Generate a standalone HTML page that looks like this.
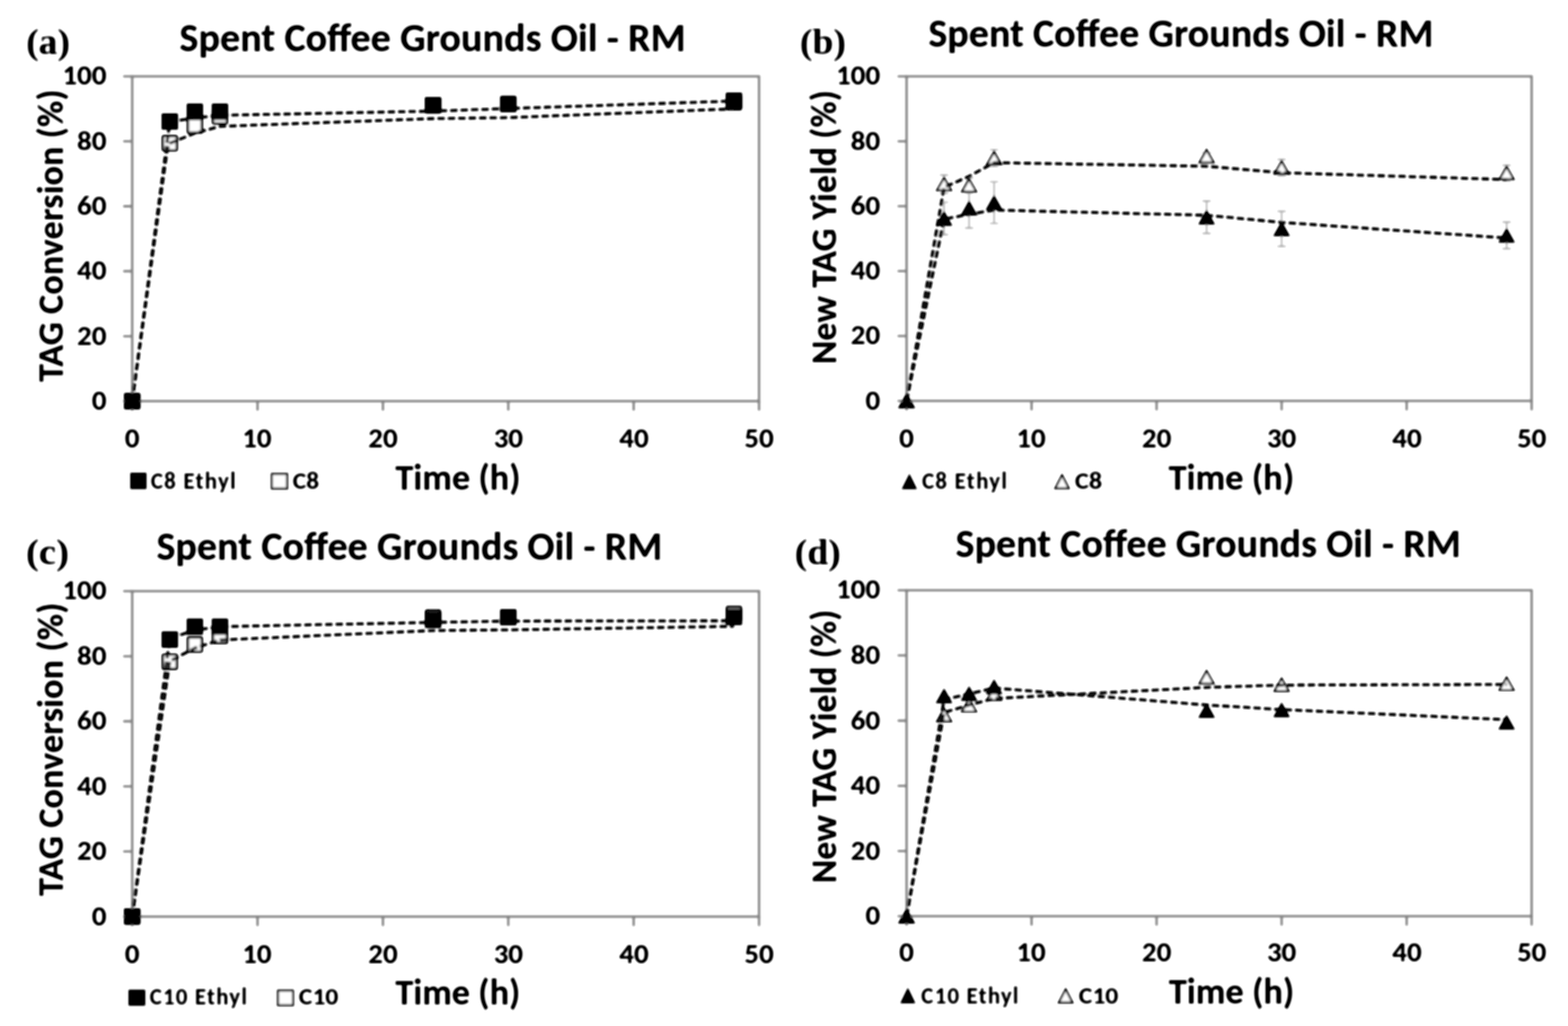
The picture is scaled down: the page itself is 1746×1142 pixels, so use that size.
<!DOCTYPE html>
<html><head><meta charset="utf-8"><title>Spent Coffee Grounds Oil - RM</title>
<style>html,body{margin:0;padding:0;background:#fff;width:1746px;height:1142px;overflow:hidden}svg{display:block}#w{width:1746px;height:1142px}</style>
</head><body>
<div id="w">
<svg width="1746" height="1142" viewBox="0 0 1746 1142">
<defs><filter id="bl" filterUnits="userSpaceOnUse" x="0" y="0" width="1746" height="1142"><feGaussianBlur stdDeviation="1"/><feComponentTransfer><feFuncA type="linear" slope="1.3" intercept="-0.1"/></feComponentTransfer></filter></defs>
<rect width="1746" height="1142" fill="#fff"/>
<g filter="url(#bl)">
<rect x="147.2" y="85.0" width="698.00" height="361.50" fill="none" stroke="#8e8e8e" stroke-width="2.6"/>
<path d="M137.20 446.50H147.20 M137.20 374.20H147.20 M137.20 301.90H147.20 M137.20 229.60H147.20 M137.20 157.30H147.20 M137.20 85.00H147.20 M147.20 446.50V457.00 M286.80 446.50V457.00 M426.40 446.50V457.00 M566.00 446.50V457.00 M705.60 446.50V457.00 M845.20 446.50V457.00" stroke="#8e8e8e" stroke-width="2.6" fill="none"/>
<rect x="1009.5" y="85.0" width="696.00" height="361.20" fill="none" stroke="#8e8e8e" stroke-width="2.6"/>
<path d="M999.50 446.20H1009.50 M999.50 373.96H1009.50 M999.50 301.72H1009.50 M999.50 229.48H1009.50 M999.50 157.24H1009.50 M999.50 85.00H1009.50 M1009.50 446.20V456.70 M1148.70 446.20V456.70 M1287.90 446.20V456.70 M1427.10 446.20V456.70 M1566.30 446.20V456.70 M1705.50 446.20V456.70" stroke="#8e8e8e" stroke-width="2.6" fill="none"/>
<rect x="147.2" y="658.0" width="698.00" height="362.20" fill="none" stroke="#8e8e8e" stroke-width="2.6"/>
<path d="M137.20 1020.20H147.20 M137.20 947.76H147.20 M137.20 875.32H147.20 M137.20 802.88H147.20 M137.20 730.44H147.20 M137.20 658.00H147.20 M147.20 1020.20V1030.70 M286.80 1020.20V1030.70 M426.40 1020.20V1030.70 M566.00 1020.20V1030.70 M705.60 1020.20V1030.70 M845.20 1020.20V1030.70" stroke="#8e8e8e" stroke-width="2.6" fill="none"/>
<rect x="1009.5" y="657.0" width="696.00" height="362.80" fill="none" stroke="#8e8e8e" stroke-width="2.6"/>
<path d="M999.50 1019.80H1009.50 M999.50 947.24H1009.50 M999.50 874.68H1009.50 M999.50 802.12H1009.50 M999.50 729.56H1009.50 M999.50 657.00H1009.50 M1009.50 1019.80V1030.30 M1148.70 1019.80V1030.30 M1287.90 1019.80V1030.30 M1427.10 1019.80V1030.30 M1566.30 1019.80V1030.30 M1705.50 1019.80V1030.30" stroke="#8e8e8e" stroke-width="2.6" fill="none"/>
<path d="M217.00 131.27V148.62M212.50 131.27H221.50M212.50 148.62H221.50" stroke="#a6a6a6" stroke-width="1.4" fill="none"/>
<rect x="139.40" y="438.70" width="15.60" height="15.60" rx="1" fill="#fff" stroke="#000" stroke-width="2.6"/>
<rect x="181.28" y="151.67" width="15.60" height="15.60" rx="1" fill="#fff" stroke="#000" stroke-width="2.6"/>
<rect x="209.20" y="132.15" width="15.60" height="15.60" rx="1" fill="#fff" stroke="#000" stroke-width="2.6"/>
<rect x="237.12" y="121.66" width="15.60" height="15.60" rx="1" fill="#fff" stroke="#000" stroke-width="2.6"/>
<rect x="474.44" y="109.37" width="15.60" height="15.60" rx="1" fill="#fff" stroke="#000" stroke-width="2.6"/>
<rect x="558.20" y="107.93" width="15.60" height="15.60" rx="1" fill="#fff" stroke="#000" stroke-width="2.6"/>
<rect x="809.48" y="106.12" width="15.60" height="15.60" rx="1" fill="#fff" stroke="#000" stroke-width="2.6"/>
<polyline points="147.20,446.50 186.29,166.34 189.08,159.47 217.00,148.26 244.92,140.67 482.24,132.00 566.00,130.91 817.28,121.15" fill="none" stroke="#111" stroke-width="3.3" stroke-dasharray="8.2 3.4" stroke-linejoin="round"/>
<polyline points="147.20,446.50 189.08,135.61 217.00,131.27 244.92,128.38 482.24,123.68 566.00,120.79 817.28,112.47" fill="none" stroke="#111" stroke-width="3.3" stroke-dasharray="8.2 3.4" stroke-linejoin="round"/>
<rect x="138.10" y="437.40" width="18.2" height="18.2" rx="1.2" fill="#000"/>
<rect x="179.98" y="126.15" width="18.2" height="18.2" rx="1.2" fill="#000"/>
<rect x="207.90" y="115.30" width="18.2" height="18.2" rx="1.2" fill="#000"/>
<rect x="235.82" y="115.30" width="18.2" height="18.2" rx="1.2" fill="#000"/>
<rect x="473.14" y="108.07" width="18.2" height="18.2" rx="1.2" fill="#000"/>
<rect x="556.90" y="106.63" width="18.2" height="18.2" rx="1.2" fill="#000"/>
<rect x="808.18" y="103.01" width="18.2" height="18.2" rx="1.2" fill="#000"/>
<path d="M1051.26 194.80V215.03M1046.76 194.80H1055.76M1046.76 215.03H1055.76 M1079.10 198.06V214.67M1074.60 198.06H1083.60M1074.60 214.67H1083.60 M1106.94 166.63V185.41M1102.44 166.63H1111.44M1102.44 185.41H1111.44 M1343.58 170.24V177.47M1339.08 170.24H1348.08M1339.08 177.47H1348.08 M1427.10 177.47V195.53M1422.60 177.47H1431.60M1422.60 195.53H1431.60 M1677.66 183.97V201.31M1673.16 183.97H1682.16M1673.16 201.31H1682.16 M1051.26 225.15V261.27M1046.76 225.15H1055.76M1046.76 261.27H1055.76 M1079.10 209.61V253.68M1074.60 209.61H1083.60M1074.60 253.68H1083.60 M1106.94 202.39V248.62M1102.44 202.39H1111.44M1102.44 248.62H1111.44 M1343.58 223.70V259.82M1339.08 223.70H1348.08M1339.08 259.82H1348.08 M1427.10 235.26V274.27M1422.60 235.26H1431.60M1422.60 274.27H1431.60 M1677.66 247.18V276.80M1673.16 247.18H1682.16M1673.16 276.80H1682.16" stroke="#a6a6a6" stroke-width="1.4" fill="none"/>
<polygon points="1009.50,439.30 1017.30,453.10 1001.70,453.10" fill="#fff" stroke="#000" stroke-width="2.1" stroke-linejoin="miter"/>
<polygon points="1051.26,198.02 1059.06,211.82 1043.46,211.82" fill="#fff" stroke="#000" stroke-width="2.1" stroke-linejoin="miter"/>
<polygon points="1079.10,199.46 1086.90,213.26 1071.30,213.26" fill="#fff" stroke="#000" stroke-width="2.1" stroke-linejoin="miter"/>
<polygon points="1106.94,169.12 1114.74,182.92 1099.14,182.92" fill="#fff" stroke="#000" stroke-width="2.1" stroke-linejoin="miter"/>
<polygon points="1343.58,166.96 1351.38,180.76 1335.78,180.76" fill="#fff" stroke="#000" stroke-width="2.1" stroke-linejoin="miter"/>
<polygon points="1427.10,179.60 1434.90,193.40 1419.30,193.40" fill="#fff" stroke="#000" stroke-width="2.1" stroke-linejoin="miter"/>
<polygon points="1677.66,185.74 1685.46,199.54 1669.86,199.54" fill="#fff" stroke="#000" stroke-width="2.1" stroke-linejoin="miter"/>
<polyline points="1009.50,446.20 1051.26,208.53 1079.10,196.25 1106.94,181.08 1343.58,185.05 1427.10,192.28 1677.66,199.86" fill="none" stroke="#111" stroke-width="3.3" stroke-dasharray="8.2 3.4" stroke-linejoin="round"/>
<polyline points="1009.50,446.20 1051.26,243.93 1079.10,238.51 1106.94,233.81 1343.58,239.59 1427.10,247.54 1677.66,264.88" fill="none" stroke="#111" stroke-width="3.3" stroke-dasharray="8.2 3.4" stroke-linejoin="round"/>
<polygon points="1009.50,438.40 1018.30,454.00 1000.70,454.00" fill="#000" stroke="#000" stroke-width="0.8" stroke-linejoin="round"/>
<polygon points="1051.26,235.41 1060.06,251.01 1042.46,251.01" fill="#000" stroke="#000" stroke-width="0.8" stroke-linejoin="round"/>
<polygon points="1079.10,223.85 1087.90,239.45 1070.30,239.45" fill="#000" stroke="#000" stroke-width="0.8" stroke-linejoin="round"/>
<polygon points="1106.94,217.71 1115.74,233.31 1098.14,233.31" fill="#000" stroke="#000" stroke-width="0.8" stroke-linejoin="round"/>
<polygon points="1343.58,233.96 1352.38,249.56 1334.78,249.56" fill="#000" stroke="#000" stroke-width="0.8" stroke-linejoin="round"/>
<polygon points="1427.10,246.96 1435.90,262.56 1418.30,262.56" fill="#000" stroke="#000" stroke-width="0.8" stroke-linejoin="round"/>
<polygon points="1677.66,254.19 1686.46,269.79 1668.86,269.79" fill="#000" stroke="#000" stroke-width="0.8" stroke-linejoin="round"/>
<path d="M189.08 731.16V742.03M184.58 731.16H193.58M184.58 742.03H193.58 M217.00 711.97V722.83M212.50 711.97H221.50M212.50 722.83H221.50 M244.92 704.36V711.61M240.42 704.36H249.42M240.42 711.61H249.42" stroke="#a6a6a6" stroke-width="1.4" fill="none"/>
<rect x="139.40" y="1012.40" width="15.60" height="15.60" rx="1" fill="#fff" stroke="#000" stroke-width="2.6"/>
<rect x="181.28" y="728.80" width="15.60" height="15.60" rx="1" fill="#fff" stroke="#000" stroke-width="2.6"/>
<rect x="209.20" y="709.60" width="15.60" height="15.60" rx="1" fill="#fff" stroke="#000" stroke-width="2.6"/>
<rect x="237.12" y="700.18" width="15.60" height="15.60" rx="1" fill="#fff" stroke="#000" stroke-width="2.6"/>
<rect x="474.44" y="679.54" width="15.60" height="15.60" rx="1" fill="#fff" stroke="#000" stroke-width="2.6"/>
<rect x="558.20" y="679.18" width="15.60" height="15.60" rx="1" fill="#fff" stroke="#000" stroke-width="2.6"/>
<rect x="809.48" y="675.55" width="15.60" height="15.60" rx="1" fill="#fff" stroke="#000" stroke-width="2.6"/>
<polyline points="147.20,1020.20 189.08,735.87 217.00,721.38 244.92,712.33 482.24,701.83 566.00,701.10 817.28,697.12" fill="none" stroke="#111" stroke-width="3.3" stroke-dasharray="8.2 3.4" stroke-linejoin="round"/>
<polyline points="147.20,1020.20 189.08,710.52 217.00,701.46 244.92,697.48 482.24,692.77 566.00,691.32 817.28,690.96" fill="none" stroke="#111" stroke-width="3.3" stroke-dasharray="8.2 3.4" stroke-linejoin="round"/>
<rect x="138.10" y="1011.10" width="18.2" height="18.2" rx="1.2" fill="#000"/>
<rect x="179.98" y="702.87" width="18.2" height="18.2" rx="1.2" fill="#000"/>
<rect x="207.90" y="688.38" width="18.2" height="18.2" rx="1.2" fill="#000"/>
<rect x="235.82" y="688.38" width="18.2" height="18.2" rx="1.2" fill="#000"/>
<rect x="473.14" y="680.77" width="18.2" height="18.2" rx="1.2" fill="#000"/>
<rect x="556.90" y="677.88" width="18.2" height="18.2" rx="1.2" fill="#000"/>
<rect x="808.18" y="677.51" width="18.2" height="18.2" rx="1.2" fill="#000"/>
<polygon points="1009.50,1012.90 1017.30,1026.70 1001.70,1026.70" fill="#fff" stroke="#000" stroke-width="2.1" stroke-linejoin="miter"/>
<polygon points="1051.26,789.05 1059.06,802.85 1043.46,802.85" fill="#fff" stroke="#000" stroke-width="2.1" stroke-linejoin="miter"/>
<polygon points="1079.10,778.17 1086.90,791.97 1071.30,791.97" fill="#fff" stroke="#000" stroke-width="2.1" stroke-linejoin="miter"/>
<polygon points="1106.94,765.47 1114.74,779.27 1099.14,779.27" fill="#fff" stroke="#000" stroke-width="2.1" stroke-linejoin="miter"/>
<polygon points="1343.58,746.97 1351.38,760.77 1335.78,760.77" fill="#fff" stroke="#000" stroke-width="2.1" stroke-linejoin="miter"/>
<polygon points="1427.10,755.31 1434.90,769.11 1419.30,769.11" fill="#fff" stroke="#000" stroke-width="2.1" stroke-linejoin="miter"/>
<polygon points="1677.66,754.22 1685.46,768.02 1669.86,768.02" fill="#fff" stroke="#000" stroke-width="2.1" stroke-linejoin="miter"/>
<polyline points="1009.50,1019.80 1051.26,793.05 1079.10,784.71 1106.94,777.45 1343.58,765.11 1427.10,762.57 1677.66,761.85" fill="none" stroke="#111" stroke-width="3.3" stroke-dasharray="8.2 3.4" stroke-linejoin="round"/>
<polyline points="1009.50,1019.80 1051.26,778.54 1079.10,772.37 1106.94,765.84 1343.58,784.71 1427.10,789.78 1677.66,801.03" fill="none" stroke="#111" stroke-width="3.3" stroke-dasharray="8.2 3.4" stroke-linejoin="round"/>
<polygon points="1009.50,1012.00 1018.30,1027.60 1000.70,1027.60" fill="#000" stroke="#000" stroke-width="0.8" stroke-linejoin="round"/>
<polygon points="1051.26,766.75 1060.06,782.35 1042.46,782.35" fill="#000" stroke="#000" stroke-width="0.8" stroke-linejoin="round"/>
<polygon points="1079.10,764.21 1087.90,779.81 1070.30,779.81" fill="#000" stroke="#000" stroke-width="0.8" stroke-linejoin="round"/>
<polygon points="1106.94,756.59 1115.74,772.19 1098.14,772.19" fill="#000" stroke="#000" stroke-width="0.8" stroke-linejoin="round"/>
<polygon points="1343.58,783.07 1352.38,798.67 1334.78,798.67" fill="#000" stroke="#000" stroke-width="0.8" stroke-linejoin="round"/>
<polygon points="1427.10,782.35 1435.90,797.95 1418.30,797.95" fill="#000" stroke="#000" stroke-width="0.8" stroke-linejoin="round"/>
<polygon points="1677.66,796.13 1686.46,811.73 1668.86,811.73" fill="#000" stroke="#000" stroke-width="0.8" stroke-linejoin="round"/>
<rect x="145.1" y="526.2" width="18.00" height="18.20" fill="#000"/>
<rect x="302.80" y="527.50" width="16.90" height="16.30" fill="#fff" stroke="#1a1a1a" stroke-width="2.3"/>
<polygon points="1012.60,527.2 1021.2,544.4 1004,544.4" fill="#000"/>
<polygon points="1182.60,529.10 1190.00,543.50 1175.20,543.50" fill="#fff" stroke="#000" stroke-width="2.1" stroke-linejoin="miter"/>
<rect x="143.1" y="1101.6" width="18.60" height="17.80" fill="#000"/>
<rect x="309.60" y="1102.60" width="16.60" height="16.30" fill="#fff" stroke="#1a1a1a" stroke-width="2.3"/>
<polygon points="1010.90,1099.3 1019.4,1116.8 1002.4,1116.8" fill="#000"/>
<polygon points="1186.65,1101.20 1194.20,1115.90 1179.10,1115.90" fill="#fff" stroke="#000" stroke-width="2.1" stroke-linejoin="miter"/>
<g fill="#000">
<text x="199.86" y="56.50" font-family="Carlito, 'Liberation Sans', sans-serif" font-weight="bold" font-size="43.7" textLength="563.65" lengthAdjust="spacingAndGlyphs">Spent Coffee Grounds Oil - RM</text>
<text x="1033.66" y="52.10" font-family="Carlito, 'Liberation Sans', sans-serif" font-weight="bold" font-size="43.7" textLength="562.54" lengthAdjust="spacingAndGlyphs">Spent Coffee Grounds Oil - RM</text>
<text x="174.26" y="623.40" font-family="Carlito, 'Liberation Sans', sans-serif" font-weight="bold" font-size="43.7" textLength="563.25" lengthAdjust="spacingAndGlyphs">Spent Coffee Grounds Oil - RM</text>
<text x="1064.06" y="619.70" font-family="Carlito, 'Liberation Sans', sans-serif" font-weight="bold" font-size="43.7" textLength="562.64" lengthAdjust="spacingAndGlyphs">Spent Coffee Grounds Oil - RM</text>
<text x="29.17" y="59.80" font-family="'Liberation Serif', serif" font-weight="bold" font-size="40" textLength="48.81" lengthAdjust="spacingAndGlyphs">(a)</text>
<text x="890.77" y="60.20" font-family="'Liberation Serif', serif" font-weight="bold" font-size="40" textLength="51.11" lengthAdjust="spacingAndGlyphs">(b)</text>
<text x="28.91" y="628.00" font-family="'Liberation Serif', serif" font-weight="bold" font-size="40" textLength="47.84" lengthAdjust="spacingAndGlyphs">(c)</text>
<text x="885.07" y="628.00" font-family="'Liberation Serif', serif" font-weight="bold" font-size="40" textLength="51.00" lengthAdjust="spacingAndGlyphs">(d)</text>
<text transform="translate(69.80,424.95) rotate(-90)" x="0" y="0" font-family="Carlito, 'Liberation Sans', sans-serif" font-weight="bold" font-size="39.7" textLength="325.47" lengthAdjust="spacingAndGlyphs">TAG Conversion (%)</text>
<text transform="translate(931.20,405.57) rotate(-90)" x="0" y="0" font-family="Carlito, 'Liberation Sans', sans-serif" font-weight="bold" font-size="39.7" textLength="305.35" lengthAdjust="spacingAndGlyphs">New TAG Yield (%)</text>
<text transform="translate(69.80,997.15) rotate(-90)" x="0" y="0" font-family="Carlito, 'Liberation Sans', sans-serif" font-weight="bold" font-size="39.7" textLength="326.48" lengthAdjust="spacingAndGlyphs">TAG Conversion (%)</text>
<text transform="translate(931.20,983.37) rotate(-90)" x="0" y="0" font-family="Carlito, 'Liberation Sans', sans-serif" font-weight="bold" font-size="39.7" textLength="304.85" lengthAdjust="spacingAndGlyphs">New TAG Yield (%)</text>
<text x="440.32" y="544.90" font-family="Carlito, 'Liberation Sans', sans-serif" font-weight="bold" font-size="39.5" textLength="139.31" lengthAdjust="spacingAndGlyphs">Time (h)</text>
<text x="1301.22" y="544.90" font-family="Carlito, 'Liberation Sans', sans-serif" font-weight="bold" font-size="39.5" textLength="139.82" lengthAdjust="spacingAndGlyphs">Time (h)</text>
<text x="440.32" y="1118.00" font-family="Carlito, 'Liberation Sans', sans-serif" font-weight="bold" font-size="39.5" textLength="139.11" lengthAdjust="spacingAndGlyphs">Time (h)</text>
<text x="1301.42" y="1117.10" font-family="Carlito, 'Liberation Sans', sans-serif" font-weight="bold" font-size="39.5" textLength="139.82" lengthAdjust="spacingAndGlyphs">Time (h)</text>
<text x="167.95" y="543.70" font-family="Carlito, 'Liberation Sans', sans-serif" font-weight="bold" font-size="25.5" textLength="94.46" lengthAdjust="spacing">C8 Ethyl</text>
<text x="326.13" y="543.70" font-family="Carlito, 'Liberation Sans', sans-serif" font-weight="bold" font-size="25.5" textLength="29.24" lengthAdjust="spacingAndGlyphs">C8</text>
<text x="1026.65" y="543.90" font-family="Carlito, 'Liberation Sans', sans-serif" font-weight="bold" font-size="25.5" textLength="94.66" lengthAdjust="spacing">C8 Ethyl</text>
<text x="1197.09" y="543.90" font-family="Carlito, 'Liberation Sans', sans-serif" font-weight="bold" font-size="25.5" textLength="30.10" lengthAdjust="spacingAndGlyphs">C8</text>
<text x="166.65" y="1118.30" font-family="Carlito, 'Liberation Sans', sans-serif" font-weight="bold" font-size="25.5" textLength="108.26" lengthAdjust="spacing">C10 Ethyl</text>
<text x="332.85" y="1118.30" font-family="Carlito, 'Liberation Sans', sans-serif" font-weight="bold" font-size="25.5" textLength="43.97" lengthAdjust="spacingAndGlyphs">C10</text>
<text x="1025.85" y="1116.80" font-family="Carlito, 'Liberation Sans', sans-serif" font-weight="bold" font-size="25.5" textLength="108.26" lengthAdjust="spacing">C10 Ethyl</text>
<text x="1201.35" y="1116.80" font-family="Carlito, 'Liberation Sans', sans-serif" font-weight="bold" font-size="25.5" textLength="43.97" lengthAdjust="spacingAndGlyphs">C10</text>
<text x="102.17" y="455.90" font-family="Carlito, 'Liberation Sans', sans-serif" font-weight="bold" font-size="31" textLength="16.35" lengthAdjust="spacingAndGlyphs">0</text>
<text x="85.81" y="383.60" font-family="Carlito, 'Liberation Sans', sans-serif" font-weight="bold" font-size="31" textLength="32.70" lengthAdjust="spacingAndGlyphs">20</text>
<text x="85.81" y="311.30" font-family="Carlito, 'Liberation Sans', sans-serif" font-weight="bold" font-size="31" textLength="32.70" lengthAdjust="spacingAndGlyphs">40</text>
<text x="85.81" y="239.00" font-family="Carlito, 'Liberation Sans', sans-serif" font-weight="bold" font-size="31" textLength="32.70" lengthAdjust="spacingAndGlyphs">60</text>
<text x="85.81" y="166.70" font-family="Carlito, 'Liberation Sans', sans-serif" font-weight="bold" font-size="31" textLength="32.70" lengthAdjust="spacingAndGlyphs">80</text>
<text x="69.46" y="94.40" font-family="Carlito, 'Liberation Sans', sans-serif" font-weight="bold" font-size="31" textLength="49.06" lengthAdjust="spacingAndGlyphs">100</text>
<text x="139.02" y="498.40" font-family="Carlito, 'Liberation Sans', sans-serif" font-weight="bold" font-size="31" textLength="16.35" lengthAdjust="spacingAndGlyphs">0</text>
<text x="269.79" y="498.40" font-family="Carlito, 'Liberation Sans', sans-serif" font-weight="bold" font-size="31" textLength="32.70" lengthAdjust="spacingAndGlyphs">10</text>
<text x="410.05" y="498.40" font-family="Carlito, 'Liberation Sans', sans-serif" font-weight="bold" font-size="31" textLength="32.70" lengthAdjust="spacingAndGlyphs">20</text>
<text x="549.65" y="498.40" font-family="Carlito, 'Liberation Sans', sans-serif" font-weight="bold" font-size="31" textLength="32.70" lengthAdjust="spacingAndGlyphs">30</text>
<text x="689.64" y="498.40" font-family="Carlito, 'Liberation Sans', sans-serif" font-weight="bold" font-size="31" textLength="32.70" lengthAdjust="spacingAndGlyphs">40</text>
<text x="828.85" y="498.40" font-family="Carlito, 'Liberation Sans', sans-serif" font-weight="bold" font-size="31" textLength="32.70" lengthAdjust="spacingAndGlyphs">50</text>
<text x="963.67" y="455.60" font-family="Carlito, 'Liberation Sans', sans-serif" font-weight="bold" font-size="31" textLength="16.35" lengthAdjust="spacingAndGlyphs">0</text>
<text x="947.31" y="383.36" font-family="Carlito, 'Liberation Sans', sans-serif" font-weight="bold" font-size="31" textLength="32.70" lengthAdjust="spacingAndGlyphs">20</text>
<text x="947.31" y="311.12" font-family="Carlito, 'Liberation Sans', sans-serif" font-weight="bold" font-size="31" textLength="32.70" lengthAdjust="spacingAndGlyphs">40</text>
<text x="947.31" y="238.88" font-family="Carlito, 'Liberation Sans', sans-serif" font-weight="bold" font-size="31" textLength="32.70" lengthAdjust="spacingAndGlyphs">60</text>
<text x="947.31" y="166.64" font-family="Carlito, 'Liberation Sans', sans-serif" font-weight="bold" font-size="31" textLength="32.70" lengthAdjust="spacingAndGlyphs">80</text>
<text x="930.96" y="94.40" font-family="Carlito, 'Liberation Sans', sans-serif" font-weight="bold" font-size="31" textLength="49.06" lengthAdjust="spacingAndGlyphs">100</text>
<text x="1001.32" y="498.40" font-family="Carlito, 'Liberation Sans', sans-serif" font-weight="bold" font-size="31" textLength="16.35" lengthAdjust="spacingAndGlyphs">0</text>
<text x="1131.69" y="498.40" font-family="Carlito, 'Liberation Sans', sans-serif" font-weight="bold" font-size="31" textLength="32.70" lengthAdjust="spacingAndGlyphs">10</text>
<text x="1271.55" y="498.40" font-family="Carlito, 'Liberation Sans', sans-serif" font-weight="bold" font-size="31" textLength="32.70" lengthAdjust="spacingAndGlyphs">20</text>
<text x="1410.75" y="498.40" font-family="Carlito, 'Liberation Sans', sans-serif" font-weight="bold" font-size="31" textLength="32.70" lengthAdjust="spacingAndGlyphs">30</text>
<text x="1550.34" y="498.40" font-family="Carlito, 'Liberation Sans', sans-serif" font-weight="bold" font-size="31" textLength="32.70" lengthAdjust="spacingAndGlyphs">40</text>
<text x="1689.15" y="498.40" font-family="Carlito, 'Liberation Sans', sans-serif" font-weight="bold" font-size="31" textLength="32.70" lengthAdjust="spacingAndGlyphs">50</text>
<text x="102.17" y="1029.60" font-family="Carlito, 'Liberation Sans', sans-serif" font-weight="bold" font-size="31" textLength="16.35" lengthAdjust="spacingAndGlyphs">0</text>
<text x="85.81" y="957.16" font-family="Carlito, 'Liberation Sans', sans-serif" font-weight="bold" font-size="31" textLength="32.70" lengthAdjust="spacingAndGlyphs">20</text>
<text x="85.81" y="884.72" font-family="Carlito, 'Liberation Sans', sans-serif" font-weight="bold" font-size="31" textLength="32.70" lengthAdjust="spacingAndGlyphs">40</text>
<text x="85.81" y="812.28" font-family="Carlito, 'Liberation Sans', sans-serif" font-weight="bold" font-size="31" textLength="32.70" lengthAdjust="spacingAndGlyphs">60</text>
<text x="85.81" y="739.84" font-family="Carlito, 'Liberation Sans', sans-serif" font-weight="bold" font-size="31" textLength="32.70" lengthAdjust="spacingAndGlyphs">80</text>
<text x="69.46" y="667.40" font-family="Carlito, 'Liberation Sans', sans-serif" font-weight="bold" font-size="31" textLength="49.06" lengthAdjust="spacingAndGlyphs">100</text>
<text x="139.02" y="1071.90" font-family="Carlito, 'Liberation Sans', sans-serif" font-weight="bold" font-size="31" textLength="16.35" lengthAdjust="spacingAndGlyphs">0</text>
<text x="269.79" y="1071.90" font-family="Carlito, 'Liberation Sans', sans-serif" font-weight="bold" font-size="31" textLength="32.70" lengthAdjust="spacingAndGlyphs">10</text>
<text x="410.05" y="1071.90" font-family="Carlito, 'Liberation Sans', sans-serif" font-weight="bold" font-size="31" textLength="32.70" lengthAdjust="spacingAndGlyphs">20</text>
<text x="549.65" y="1071.90" font-family="Carlito, 'Liberation Sans', sans-serif" font-weight="bold" font-size="31" textLength="32.70" lengthAdjust="spacingAndGlyphs">30</text>
<text x="689.64" y="1071.90" font-family="Carlito, 'Liberation Sans', sans-serif" font-weight="bold" font-size="31" textLength="32.70" lengthAdjust="spacingAndGlyphs">40</text>
<text x="828.85" y="1071.90" font-family="Carlito, 'Liberation Sans', sans-serif" font-weight="bold" font-size="31" textLength="32.70" lengthAdjust="spacingAndGlyphs">50</text>
<text x="963.67" y="1029.20" font-family="Carlito, 'Liberation Sans', sans-serif" font-weight="bold" font-size="31" textLength="16.35" lengthAdjust="spacingAndGlyphs">0</text>
<text x="947.31" y="956.64" font-family="Carlito, 'Liberation Sans', sans-serif" font-weight="bold" font-size="31" textLength="32.70" lengthAdjust="spacingAndGlyphs">20</text>
<text x="947.31" y="884.08" font-family="Carlito, 'Liberation Sans', sans-serif" font-weight="bold" font-size="31" textLength="32.70" lengthAdjust="spacingAndGlyphs">40</text>
<text x="947.31" y="811.52" font-family="Carlito, 'Liberation Sans', sans-serif" font-weight="bold" font-size="31" textLength="32.70" lengthAdjust="spacingAndGlyphs">60</text>
<text x="947.31" y="738.96" font-family="Carlito, 'Liberation Sans', sans-serif" font-weight="bold" font-size="31" textLength="32.70" lengthAdjust="spacingAndGlyphs">80</text>
<text x="930.96" y="666.40" font-family="Carlito, 'Liberation Sans', sans-serif" font-weight="bold" font-size="31" textLength="49.06" lengthAdjust="spacingAndGlyphs">100</text>
<text x="1001.32" y="1070.40" font-family="Carlito, 'Liberation Sans', sans-serif" font-weight="bold" font-size="31" textLength="16.35" lengthAdjust="spacingAndGlyphs">0</text>
<text x="1131.69" y="1070.40" font-family="Carlito, 'Liberation Sans', sans-serif" font-weight="bold" font-size="31" textLength="32.70" lengthAdjust="spacingAndGlyphs">10</text>
<text x="1271.55" y="1070.40" font-family="Carlito, 'Liberation Sans', sans-serif" font-weight="bold" font-size="31" textLength="32.70" lengthAdjust="spacingAndGlyphs">20</text>
<text x="1410.75" y="1070.40" font-family="Carlito, 'Liberation Sans', sans-serif" font-weight="bold" font-size="31" textLength="32.70" lengthAdjust="spacingAndGlyphs">30</text>
<text x="1550.34" y="1070.40" font-family="Carlito, 'Liberation Sans', sans-serif" font-weight="bold" font-size="31" textLength="32.70" lengthAdjust="spacingAndGlyphs">40</text>
<text x="1689.15" y="1070.40" font-family="Carlito, 'Liberation Sans', sans-serif" font-weight="bold" font-size="31" textLength="32.70" lengthAdjust="spacingAndGlyphs">50</text>
</g>
</g>
</svg>
</div>
</body></html>
